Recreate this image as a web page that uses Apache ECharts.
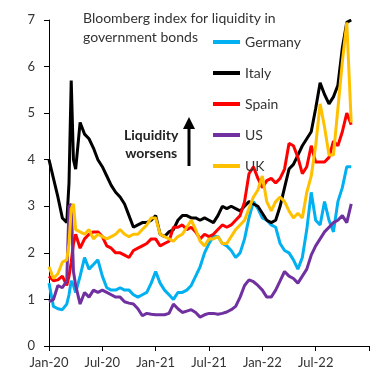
<!DOCTYPE html>
<html><head><meta charset="utf-8">
<script src="https://cdn.jsdelivr.net/npm/echarts@6/dist/echarts.min.js"></script>
<style>html,body{margin:0;padding:0;background:#fff}#c{width:384px;height:380px}</style>
</head><body><div id="c"></div>
<script>
// months since Jan-2020
const months = [0,0.5,1,1.5,2,2.25,2.5,2.75,3,3.5,4,4.5,5,5.5,6,6.5,7,7.5,8,8.5,9,9.5,10,10.5,11,11.5,12,12.5,13,13.5,14,14.5,15,15.5,16,16.5,17,17.5,18,18.5,19,19.5,20,20.5,21,21.5,22,22.5,23,23.5,24,24.5,25,25.5,26,26.5,27,27.5,28,28.5,29,29.5,30,30.5,31,31.5,32,32.5,33,33.5,34];
const tickLabels = ['Jan-20','Jul-20','Jan-21','Jul-21','Jan-22','Jul-22',''];
const seriesNames = ['Germany','Italy','Spain','US','UK'];
const germany = [1.35,0.85,0.8,0.78,0.9,1.1,1.4,1.3,1.15,1.5,1.9,1.65,1.75,1.85,1.5,1.25,1.2,1.2,1.25,1.2,1.2,1.1,1.05,1.1,1.15,1.35,1.6,1.35,1.2,1.1,1.0,1.15,1.15,1.2,1.3,1.5,1.7,2.0,2.2,2.35,2.35,2.2,2.15,2.05,1.9,2.0,2.3,2.75,3.1,2.95,2.75,2.7,2.6,2.55,2.2,2.05,2.0,1.85,1.65,1.9,2.5,3.3,2.7,2.6,3.1,2.7,2.45,3.1,3.4,3.85,3.85];
const italy = [4.0,3.6,3.2,2.75,2.65,3.5,5.7,4.0,3.8,4.8,4.55,4.45,4.25,4.0,3.85,3.65,3.45,3.3,3.2,3.05,2.8,2.55,2.6,2.65,2.65,2.7,2.8,2.4,2.35,2.45,2.5,2.7,2.8,2.8,2.75,2.75,2.7,2.75,2.7,2.65,2.8,3.0,2.95,3.0,2.95,2.9,3.0,3.1,3.05,3.0,2.85,2.7,2.65,2.7,3.0,3.4,3.8,3.9,4.1,4.3,4.45,4.6,5.1,5.65,5.4,5.2,5.35,5.6,6.4,6.95,7.0];
const spain = [1.5,1.4,1.42,1.5,1.3,1.5,1.8,2.2,2.4,2.1,2.3,2.4,2.45,2.45,2.35,2.15,2.1,2.0,2.0,1.95,1.9,2.05,2.1,2.15,2.2,2.3,2.3,2.15,2.2,2.25,2.55,2.55,2.6,2.5,2.55,2.45,2.3,2.4,2.35,2.4,2.5,2.6,2.55,2.6,2.7,2.8,3.1,3.7,3.85,3.6,3.4,3.55,3.6,3.5,3.6,3.8,4.35,4.3,4.05,3.7,3.85,4.3,3.95,3.95,3.95,4.05,4.4,4.3,4.6,5.0,4.75];
const us = [0.95,1.0,1.3,1.25,1.4,3.0,3.05,1.6,1.3,0.9,1.15,1.05,1.2,1.15,1.2,1.15,1.1,1.05,1.05,0.95,0.92,0.9,0.8,0.65,0.7,0.68,0.67,0.67,0.67,0.7,0.9,0.8,0.72,0.75,0.78,0.72,0.62,0.67,0.7,0.7,0.68,0.7,0.73,0.78,0.85,1.05,1.3,1.42,1.38,1.3,1.2,1.05,1.05,1.2,1.4,1.6,1.5,1.45,1.35,1.5,1.65,1.95,2.15,2.3,2.45,2.55,2.65,2.7,2.8,2.65,3.05];
const uk = [1.7,1.45,1.55,1.8,1.85,2.2,2.95,3.05,2.5,2.45,2.4,2.5,2.3,2.4,2.35,2.3,2.35,2.4,2.5,2.4,2.35,2.4,2.4,2.5,2.6,2.75,2.75,2.4,2.35,2.3,2.25,2.35,2.4,2.55,2.7,2.5,2.25,2.15,2.3,2.3,2.35,2.2,2.2,2.35,2.5,2.6,2.7,2.95,3.2,3.35,3.65,3.1,2.9,3.1,3.2,3.1,2.9,2.75,2.85,2.75,3.3,3.65,4.3,5.2,4.7,4.1,4.1,5.1,6.1,6.95,4.8];
const colors = ['#00B0F0','#000000','#FF0000','#7030A0','#FFC000'];
const allData = [germany, italy, spain, us, uk];

const FONT = 'Lato, "Open Sans", sans-serif';
const chart = echarts.init(document.getElementById('c'), null, {renderer:'canvas'});
chart.setOption({
  animation:false,
  backgroundColor:'#fff',
  grid:{left:49,right:15,top:20,bottom:34,containLabel:false},
  xAxis:{type:'value',min:0,max:36,interval:6,
    axisLine:{show:true,lineStyle:{color:'#000',width:1}},
    axisTick:{show:true,inside:false,length:5,lineStyle:{color:'#000'}},
    axisLabel:{color:'#333',fontSize:13,fontFamily:FONT,margin:10,
      formatter:v=>tickLabels[Math.round(v/6)]||''},
    splitLine:{show:false}},
  yAxis:{type:'value',min:0,max:7,interval:1,
    axisLine:{show:true,lineStyle:{color:'#000',width:1}},
    axisTick:{show:true,inside:false,length:5,lineStyle:{color:'#000'}},
    axisLabel:{color:'#333',fontSize:13,fontFamily:FONT,margin:14},
    splitLine:{show:false}},
  legend:{orient:'vertical',left:208,top:30,itemWidth:27,itemHeight:4,itemGap:17,icon:'rect',
    textStyle:{color:'#333',fontSize:14,fontFamily:FONT},
    data:seriesNames},
  graphic:[
    {type:'text',left:83,top:9,style:{text:'Bloomberg index for liquidity in\ngovernment bonds',fill:'#333',font:'14px '+FONT,lineHeight:19}},
    {type:'text',left:124,top:126,style:{text:'Liquidity\nworsens',fill:'#222',font:'bold 14px '+FONT,lineHeight:18,align:'center',textAlign:'center'}},
    {type:'line',shape:{x1:189,y1:166,x2:189,y2:126},style:{stroke:'#000',lineWidth:3}},
    {type:'polygon',shape:{points:[[183,129],[195,129],[189,117]]},style:{fill:'#000'}}
  ],
  series: seriesNames.map((n,i)=>({
    name:n,type:'line',symbol:'none',showSymbol:false,clip:true,
    data: months.map((m,j)=>[m, allData[i][j]]),
    lineStyle:{color:colors[i],width:3},itemStyle:{color:colors[i]}
  }))
});
</script></body></html>
